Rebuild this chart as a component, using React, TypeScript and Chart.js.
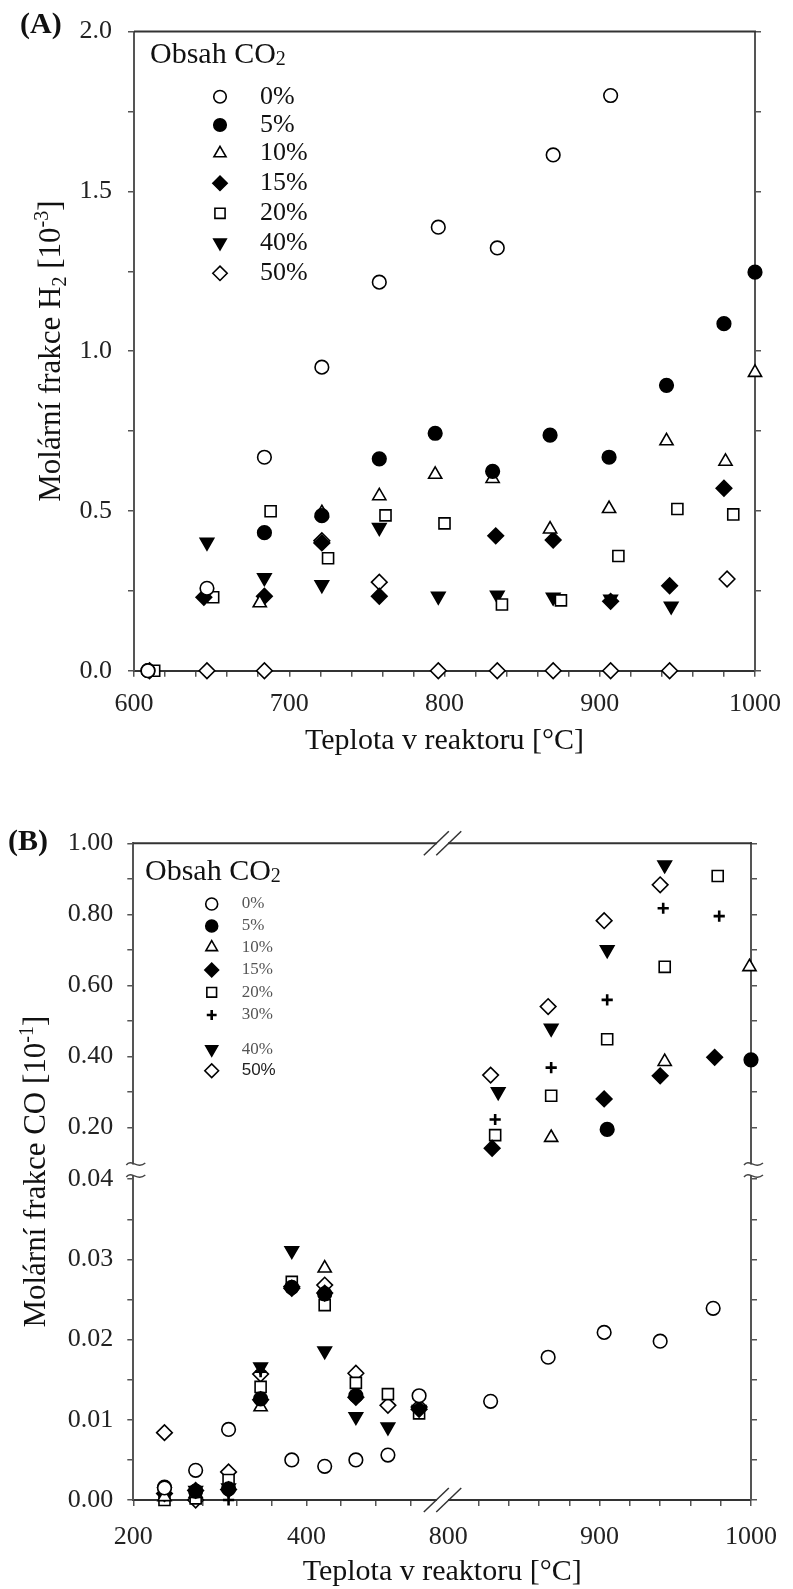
import React, { useEffect, useRef } from 'react';
import { Chart, registerables } from 'chart.js';
import { drawPoint } from 'chart.js/helpers';

Chart.register(...registerables);

const SERIF = "'Liberation Serif', 'Times New Roman', serif";
const SANS = "'Liberation Sans', Arial, sans-serif";
Chart.defaults.font.family = SERIF;
Chart.defaults.color = '#222';

type Pt = [number, number];

// ---------------- Chart (A): H2 molar fraction [10^-3] ----------------
const A_SERIES = ['0%', '5%', '10%', '15%', '20%', '40%', '50%'];
const A_CO2_0: Pt[] = [[609, 0], [647, 0.258], [684, 0.668], [721, 0.95], [758, 1.216], [796, 1.388], [834, 1.323], [870, 1.614], [907, 1.80]];
const A_CO2_5: Pt[] = [[609, 0], [684, 0.432], [721, 0.485], [758, 0.663], [794, 0.743], [831, 0.624], [868, 0.737], [906, 0.668], [943, 0.893], [980, 1.086], [1000, 1.247]];
const A_CO2_10: Pt[] = [[681, 0.212], [721, 0.494], [758, 0.547], [794, 0.614], [831, 0.601], [868, 0.443], [906, 0.507], [943, 0.719], [981, 0.655], [1000, 0.933]];
const A_CO2_15: Pt[] = [[645, 0.23], [684, 0.233], [721, 0.40], [758, 0.233], [833, 0.422], [870, 0.409], [907, 0.217], [945, 0.266], [980, 0.571]];
const A_CO2_20: Pt[] = [[613, 0], [651, 0.23], [688, 0.499], [725, 0.352], [762, 0.486], [800, 0.461], [837, 0.207], [875, 0.22], [912, 0.359], [950, 0.506], [986, 0.489]];
const A_CO2_40: Pt[] = [[647, 0.402], [684, 0.291], [721, 0.269], [758, 0.448], [796, 0.233], [834, 0.236], [870, 0.23], [907, 0.224], [946, 0.202]];
const A_CO2_50: Pt[] = [[610, 0], [647, 0], [684, 0], [721, 0.407], [758, 0.277], [796, 0], [834, 0], [870, 0], [907, 0], [945, 0], [982, 0.287]];
const A_DATA = [A_CO2_0, A_CO2_5, A_CO2_10, A_CO2_15, A_CO2_20, A_CO2_40, A_CO2_50];
const A_X_MIN = 600, A_X_MAX = 1000, A_X_STEP = 20, A_X_LABEL_STEP = 100;
const A_Y_MIN = 0, A_Y_MAX = 2, A_Y_STEP = 0.25, A_Y_LABEL_STEP = 0.5;

// ---------------- Chart (B): CO molar fraction [10^-1] ----------------
const B_SERIES = ['0%', '5%', '10%', '15%', '20%', '30%', '40%', '50%'];
const B_CO2_0: Pt[] = [[236, 0.0015], [272, 0.0037], [310, 0.0088], [383, 0.0050], [421, 0.0042], [457, 0.0050], [494, 0.0056], [530, 0.0130], [828, 0.0123], [866, 0.0178], [903, 0.0209], [940, 0.0198], [975, 0.0239]];
const B_CO2_5: Pt[] = [[236, 0.0016], [272, 0.0011], [310, 0.0014], [347, 0.0126], [383, 0.0265], [421, 0.0257], [457, 0.0130], [905, 0.194], [1000, 0.390]];
const B_CO2_10: Pt[] = [[236, 0.0004], [272, 0.0008], [347, 0.0116], [421, 0.0289], [868, 0.171], [943, 0.385], [999, 0.652]];
const B_CO2_15: Pt[] = [[236, 0.0008], [272, 0.0012], [310, 0.0013], [347, 0.0125], [383, 0.0264], [421, 0.0258], [457, 0.0128], [530, 0.0113], [829, 0.141], [903, 0.280], [940, 0.345], [976, 0.397]];
const B_CO2_20: Pt[] = [[236, 0.0], [272, 0.0002], [310, 0.0025], [347, 0.0141], [383, 0.0272], [421, 0.0243], [457, 0.0146], [494, 0.0132], [530, 0.0108], [831, 0.178], [868, 0.289], [905, 0.448], [943, 0.652], [978, 0.908]];
const B_CO2_30: Pt[] = [[236, 0.0006], [272, 0.0014], [310, 0.0], [347, 0.0160], [831, 0.222], [868, 0.368], [905, 0.559], [942, 0.817], [979, 0.795]];
const B_CO2_40: Pt[] = [[236, 0.0010], [272, 0.0012], [310, 0.0015], [347, 0.0166], [383, 0.0311], [421, 0.0186], [457, 0.0104], [494, 0.0091], [530, 0.0113], [833, 0.300], [868, 0.479], [905, 0.700], [943, 0.939]];
const B_CO2_50: Pt[] = [[236, 0.0084], [272, 0.0], [310, 0.0035], [347, 0.0157], [383, 0.0266], [421, 0.0268], [457, 0.0158], [494, 0.0118], [530, 0.0116], [828, 0.347], [866, 0.540], [903, 0.782], [940, 0.883]];
const B_DATA = [B_CO2_0, B_CO2_5, B_CO2_10, B_CO2_15, B_CO2_20, B_CO2_30, B_CO2_40, B_CO2_50];

const B_X_TICKS_LOW = [200, 240, 280, 320, 360, 400, 440, 480, 520];
const B_X_LABELS_LOW = ['200', '', '', '', '', '400', '', '', ''];
const B_X_TICKS_HIGH = [800, 820, 840, 860, 880, 900, 920, 940, 960, 980, 1000];
const B_X_LABELS_HIGH = ['800', '', '', '', '', '900', '', '', '', '', '1000'];
const B_Y_TICKS_LOW = [0, 0.005, 0.01, 0.015, 0.02, 0.025, 0.03, 0.035, 0.04];
const B_Y_LABELS_LOW = ['0.00', '', '0.01', '', '0.02', '', '0.03', '', '0.04'];
const B_Y_TICKS_HIGH = [0.2, 0.3, 0.4, 0.5, 0.6, 0.7, 0.8, 0.9, 1.0];
const B_Y_LABELS_HIGH = ['0.20', '', '0.40', '', '0.60', '', '0.80', '', '1.00'];

// broken-axis mapping (layout, not data)
const BX_SPLIT = 680, BX_LOW_K = 0.8833, BX_HIGH_OFF = 321.2, BX_HIGH_K = 1.544;
const BY_SPLIT = 0.06, BY_LOW_K = 8020, BY_HIGH_OFF = 301.7, BY_HIGH_K = 355;
const bx = (t: number) => (t < BX_SPLIT ? (t - 200) * BX_LOW_K : BX_HIGH_OFF + (t - 800) * BX_HIGH_K);
const by = (v: number) => (v <= BY_SPLIT ? v * BY_LOW_K : BY_HIGH_OFF + v * BY_HIGH_K);
const B_X_BREAK_W = 315.4;
const B_Y_BREAK_U = 330;

// ---------------- marker styles ----------------
const MARKERS: Record<string, { style: string; filled: boolean; rotation?: number; r: number }> = {
  '0%': { style: 'circle', filled: false, r: 6.8 },
  '5%': { style: 'circle', filled: true, r: 6.8 },
  '10%': { style: 'triangle', filled: false, r: 7.6 },
  '15%': { style: 'rectRot', filled: true, r: 7.8 },
  '20%': { style: 'rect', filled: false, r: 7.8 },
  '30%': { style: 'cross', filled: true, r: 5.6 },
  '40%': { style: 'triangle', filled: true, rotation: 180, r: 7.8 },
  '50%': { style: 'rectRot', filled: false, r: 7.8 },
};

function makeDataset(label: string, pts: Pt[], mx = (x: number) => x, my = (y: number) => y) {
  const m = MARKERS[label];
  return {
    label,
    data: pts.map(([x, y]) => ({ x: mx(x), y: my(y) })),
    pointStyle: m.style,
    pointRotation: m.rotation || 0,
    pointRadius: m.r,
    pointHoverRadius: m.r,
    pointBackgroundColor: m.filled ? '#000' : '#fff',
    pointBorderColor: '#000',
    pointBorderWidth: m.style === 'cross' ? 2.6 : 1.6,
    showLine: false,
    clip: false as any,
  };
}

function drawMarker(ctx: CanvasRenderingContext2D, key: string, x: number, y: number, scale = 1) {
  const m = MARKERS[key];
  ctx.save();
  ctx.fillStyle = m.filled ? '#000' : '#fff';
  ctx.strokeStyle = '#000';
  const bw = m.style === 'cross' ? 2.6 : 1.6;
  ctx.lineWidth = bw;
  drawPoint(ctx, { pointStyle: m.style as any, rotation: m.rotation || 0, radius: m.r * scale, borderWidth: bw }, x, y);
  ctx.restore();
}

type Part = { text: string; size: number; dy?: number; family?: string; weight?: string; color?: string };
function drawRich(ctx: CanvasRenderingContext2D, parts: Part[], x: number, y: number, align: 'left' | 'center', rotation = 0) {
  ctx.save();
  ctx.translate(x, y);
  ctx.rotate(rotation);
  ctx.textBaseline = 'alphabetic';
  ctx.textAlign = 'left';
  const fontOf = (p: Part) => `${p.weight || 'normal'} ${p.size}px ${p.family || SERIF}`;
  let total = 0;
  for (const p of parts) { ctx.font = fontOf(p); total += ctx.measureText(p.text).width; }
  let cx = align === 'center' ? -total / 2 : 0;
  for (const p of parts) {
    ctx.font = fontOf(p);
    ctx.fillStyle = p.color || '#111';
    ctx.fillText(p.text, cx, p.dy || 0);
    cx += ctx.measureText(p.text).width;
  }
  ctx.restore();
}

const isMult = (v: number, s: number) => Math.abs(v / s - Math.round(v / s)) < 1e-6;

const AXIS_COLOR = '#555';
const TICK_FONT = { family: SERIF, size: 26, lineHeight: 1.2 };

// ---------------- config A ----------------
function configA(): any {
  const decor = {
    id: 'decorA',
    afterDraw(chart: any) {
      const { ctx, chartArea } = chart;
      const { left, right, top, bottom } = chartArea;
      ctx.save();
      ctx.strokeStyle = '#333';
      ctx.lineWidth = 2;
      ctx.beginPath();
      ctx.moveTo(left, top);
      ctx.lineTo(right + 1, top);
      ctx.stroke();
      ctx.restore();
      drawRich(ctx, [{ text: '(A)', size: 30, weight: 'bold' }], 20, 33, 'left');
      drawRich(ctx, [
        { text: 'Molární frakce H', size: 31 },
        { text: '2', size: 20, dy: 6 },
        { text: ' [10', size: 31 },
        { text: '-3', size: 20, dy: -12 },
        { text: ']', size: 31 },
      ], 60, (top + bottom) / 2, 'center', -Math.PI / 2);
      drawRich(ctx, [{ text: 'Obsah CO', size: 30 }, { text: '2', size: 20, dy: 2 }], 150, 63, 'left');
      const rows = [96.7, 125, 153.3, 183.3, 213.3, 242.7, 273.3];
      A_SERIES.forEach((s, i) => {
        drawMarker(ctx, s, 220, rows[i], 0.92);
        ctx.save();
        ctx.font = `26px ${SERIF}`;
        ctx.fillStyle = '#111';
        ctx.textBaseline = 'middle';
        ctx.textAlign = 'left';
        ctx.fillText(s, 260, rows[i]);
        ctx.restore();
      });
    },
  };
  return {
    type: 'scatter',
    data: { datasets: A_SERIES.map((s, i) => makeDataset(s, A_DATA[i])) },
    options: {
      responsive: false,
      animation: false,
      devicePixelRatio: 1,
      events: [],
      layout: { padding: { left: 0, right: 0, top: 20, bottom: 0 } },
      plugins: { legend: { display: false }, tooltip: { enabled: false } },
      scales: {
        x: {
          type: 'linear', position: 'bottom', min: A_X_MIN, max: A_X_MAX,
          afterFit: (s: any) => { s.height = 89.3; },
          ticks: {
            stepSize: A_X_STEP, autoSkip: false, maxRotation: 0, minRotation: 0, padding: 12,
            color: '#222', font: TICK_FONT,
            callback: (v: any) => (isMult(Number(v), A_X_LABEL_STEP) ? String(v) : ''),
          },
          grid: { drawOnChartArea: false, drawTicks: true, tickLength: 6, color: AXIS_COLOR, lineWidth: 1.5 },
          border: { display: true, color: '#333', width: 2 },
          title: { display: true, text: 'Teplota v reaktoru [°C]', color: '#111', font: { family: SERIF, size: 30, lineHeight: 1 }, padding: { top: 0, bottom: 4 } },
        },
        y: {
          type: 'linear', position: 'left', min: A_Y_MIN, max: A_Y_MAX,
          afterFit: (s: any) => { s.width = 134; },
          ticks: {
            stepSize: A_Y_STEP, autoSkip: false, padding: 16, color: '#222', font: TICK_FONT,
            callback: (v: any) => (isMult(Number(v), A_Y_LABEL_STEP) ? Number(v).toFixed(1) : ''),
          },
          grid: { drawOnChartArea: false, drawTicks: true, tickLength: 6, color: AXIS_COLOR, lineWidth: 1.5 },
          border: { display: true, color: AXIS_COLOR, width: 2 },
        },
        y2: {
          type: 'linear', position: 'right', min: A_Y_MIN, max: A_Y_MAX,
          afterFit: (s: any) => { s.width = 35.3; },
          ticks: { display: false, stepSize: A_Y_STEP, autoSkip: false },
          grid: { drawOnChartArea: false, drawTicks: true, tickLength: 6, color: AXIS_COLOR, lineWidth: 1.5 },
          border: { display: true, color: AXIS_COLOR, width: 2 },
        },
      },
    },
    plugins: [decor],
  };
}

// ---------------- config B ----------------
function configB(): any {
  const xTickVals = [...B_X_TICKS_LOW, ...B_X_TICKS_HIGH].map(bx);
  const xTickLabels = [...B_X_LABELS_LOW, ...B_X_LABELS_HIGH];
  const yTickVals = [...B_Y_TICKS_LOW, ...B_Y_TICKS_HIGH].map(by);
  const yTickLabels = [...B_Y_LABELS_LOW, ...B_Y_LABELS_HIGH];
  const noMark = bx(800);

  const decor = {
    id: 'decorB',
    afterDraw(chart: any) {
      const { ctx, chartArea } = chart;
      const { left, right, top, bottom } = chartArea;
      ctx.save();
      ctx.strokeStyle = '#333';
      ctx.lineWidth = 2;
      ctx.beginPath();
      ctx.moveTo(left, top);
      ctx.lineTo(right + 1, top);
      ctx.stroke();
      // x-axis breaks (top and bottom)
      const cx = chart.scales.x.getPixelForValue(B_X_BREAK_W);
      for (const yy of [top, bottom]) {
        ctx.fillStyle = '#fff';
        ctx.fillRect(cx - 5.5, yy - 2, 11, 4);
        ctx.strokeStyle = '#333';
        ctx.lineWidth = 1.5;
        for (const dx of [-6.2, 6.2]) {
          ctx.beginPath();
          ctx.moveTo(cx + dx - 12.5, yy + 12);
          ctx.lineTo(cx + dx + 12.5, yy - 12);
          ctx.stroke();
        }
      }
      // y-axis breaks (left and right)
      const cy = chart.scales.y.getPixelForValue(B_Y_BREAK_U);
      for (const xx of [left, right]) {
        ctx.fillStyle = '#fff';
        ctx.fillRect(xx - 2, cy - 5.5, 4, 11);
        ctx.strokeStyle = '#444';
        ctx.lineWidth = 1.4;
        for (const dy of [-6, 6]) {
          const y0 = cy + dy;
          ctx.beginPath();
          ctx.moveTo(xx - 7, y0 + 1);
          ctx.bezierCurveTo(xx - 2, y0 - 6, xx + 4, y0 + 6, xx + 12, y0 - 1);
          ctx.stroke();
        }
      }
      ctx.restore();
      drawRich(ctx, [{ text: '(B)', size: 30, weight: 'bold' }], 8, 90, 'left');
      drawRich(ctx, [
        { text: 'Molární frakce CO', size: 31 },
        { text: ' [10', size: 31 },
        { text: '-1', size: 20, dy: -12 },
        { text: ']', size: 31 },
      ], 45, (top + bottom) / 2, 'center', -Math.PI / 2);
      drawRich(ctx, [{ text: 'Obsah CO', size: 30 }, { text: '2', size: 20, dy: 2 }], 145, 120, 'left');
      const rows = [144, 166, 187.3, 210, 232.3, 255, 289.3, 310.7];
      B_SERIES.forEach((s, i) => {
        drawMarker(ctx, s, 211.7, rows[i], 0.88);
        ctx.save();
        const sans = s === '50%';
        ctx.font = `17px ${sans ? SANS : SERIF}`;
        ctx.fillStyle = sans ? '#222' : '#555';
        ctx.textBaseline = 'middle';
        ctx.textAlign = 'left';
        ctx.fillText(s, 241.7, rows[i]);
        ctx.restore();
      });
    },
  };

  const yAxis = (pos: 'left' | 'right', width: number, showLabels: boolean) => ({
    type: 'linear', position: pos, min: 0, max: by(1.0),
    afterFit: (s: any) => { s.width = width; },
    afterBuildTicks: (s: any) => { s.ticks = yTickVals.map((value) => ({ value })); },
    ticks: {
      display: showLabels, autoSkip: false, padding: 14, color: '#222', font: TICK_FONT,
      callback: (_v: any, i: number) => yTickLabels[i] ?? '',
    },
    grid: { drawOnChartArea: false, drawTicks: true, tickLength: 6, color: AXIS_COLOR, lineWidth: 1.5 },
    border: { display: true, color: AXIS_COLOR, width: 2 },
  });

  return {
    type: 'scatter',
    data: { datasets: B_SERIES.map((s, i) => makeDataset(s, B_DATA[i], bx, by)) },
    options: {
      responsive: false,
      animation: false,
      devicePixelRatio: 1,
      events: [],
      layout: { padding: { left: 0, right: 0, top: 83.3, bottom: 0 } },
      plugins: { legend: { display: false }, tooltip: { enabled: false } },
      scales: {
        x: {
          type: 'linear', position: 'bottom', min: 0, max: bx(1000),
          afterFit: (s: any) => { s.height = 89; },
          afterBuildTicks: (s: any) => { s.ticks = xTickVals.map((value) => ({ value })); },
          ticks: {
            autoSkip: false, maxRotation: 0, minRotation: 0, padding: 16, color: '#222', font: TICK_FONT,
            callback: (_v: any, i: number) => xTickLabels[i] ?? '',
          },
          grid: {
            drawOnChartArea: false, drawTicks: true, tickLength: 6, lineWidth: 1.5,
            tickColor: (c: any) => (c.tick && Math.abs(c.tick.value - noMark) < 0.01 ? 'rgba(0,0,0,0)' : AXIS_COLOR),
            color: AXIS_COLOR,
          },
          border: { display: true, color: '#333', width: 2 },
          title: { display: true, text: 'Teplota v reaktoru [°C]', color: '#111', font: { family: SERIF, size: 30, lineHeight: 1 }, padding: { top: 0, bottom: 2 } },
        },
        y: yAxis('left', 133.3, true),
        y2: yAxis('right', 30.3, false),
      },
    },
    plugins: [decor],
  };
}

export default function App() {
  const refA = useRef<HTMLCanvasElement>(null);
  const refB = useRef<HTMLCanvasElement>(null);
  useEffect(() => {
    document.body.style.margin = '0';
    document.body.style.background = '#fff';
    const a = new Chart(refA.current as HTMLCanvasElement, configA());
    const b = new Chart(refB.current as HTMLCanvasElement, configB());
    return () => { a.destroy(); b.destroy(); };
  }, []);
  return (
    <div style={{ width: 793, background: '#fff' }}>
      <canvas ref={refA} width={793} height={760} style={{ display: 'block', width: 793, height: 760 }} />
      <canvas ref={refB} width={793} height={829} style={{ display: 'block', width: 793, height: 829 }} />
    </div>
  );
}
